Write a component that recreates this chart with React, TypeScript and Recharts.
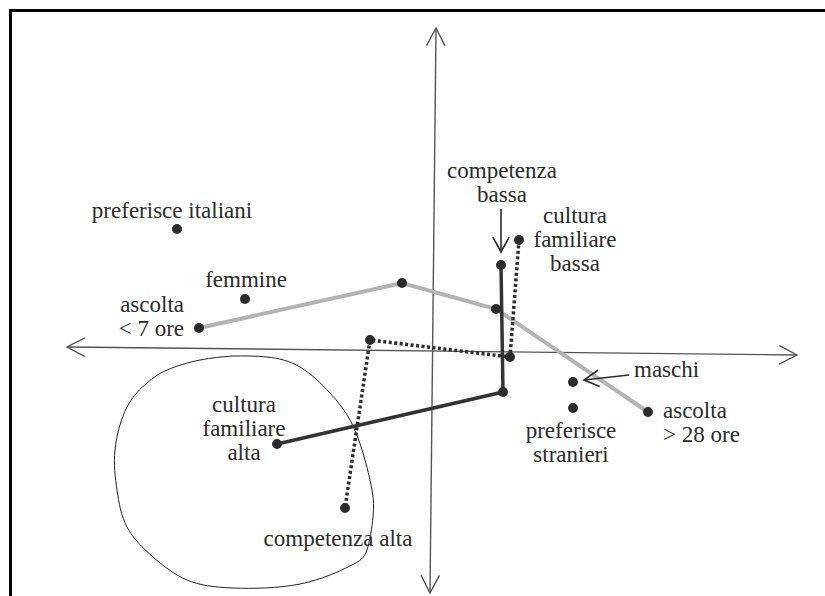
import { ComposedChart, Line, ReferenceLine, Scatter, XAxis, YAxis } from "recharts";

// axis ends (the two axes of the factorial plane)
const axisH = [{ x: -3.66, y: 0.04 }, { x: 3.64, y: -0.04 }];
const axisV = [{ x: 0.03, y: 3.23 }, { x: -0.03, y: -2.42 }];

// category points
const points = [
  { name: "prefIt", label: ["preferisce italiani"], x: -2.56, y: 1.22 },
  { name: "femmine", label: ["femmine"], x: -1.88, y: 0.52 },
  { name: "ascolta7", label: ["ascolta", "< 7 ore"], x: -2.34, y: 0.23 },
  { name: "asc2", label: [], x: -0.31, y: 0.68 },
  { name: "asc3", label: [], x: 0.63, y: 0.42 },
  { name: "ascolta28", label: ["ascolta", "> 28 ore"], x: 2.15, y: -0.61 },
  { name: "maschi", label: ["maschi"], x: 1.4, y: -0.31 },
  { name: "prefStr", label: ["preferisce", "stranieri"], x: 1.4, y: -0.57 },
  { name: "compBassa", label: ["competenza", "bassa"], x: 0.68, y: 0.86 },
  { name: "cult2", label: [], x: 0.7, y: -0.41 },
  { name: "cultAlta", label: ["cultura", "familiare", "alta"], x: -1.56, y: -0.93 },
  { name: "cultBassa", label: ["cultura", "familiare", "bassa"], x: 0.86, y: 1.11 },
  { name: "comp2", label: [], x: 0.77, y: -0.06 },
  { name: "comp3", label: [], x: -0.63, y: 0.11 },
  { name: "compAlta", label: ["competenza alta"], x: -0.88, y: -1.57 },
];

// trajectories
const ascoltoPath = [
  { x: -2.34, y: 0.23 },
  { x: -0.31, y: 0.68 },
  { x: 0.63, y: 0.42 },
  { x: 2.15, y: -0.61 },
];
const culturaPath = [
  { x: 0.68, y: 0.86 },
  { x: 0.7, y: -0.41 },
  { x: -1.56, y: -0.93 },
];
const competenzaPath = [
  { x: 0.86, y: 1.11 },
  { x: 0.77, y: -0.06 },
  { x: -0.63, y: 0.11 },
  { x: -0.88, y: -1.57 },
];

// hand drawn ring
const ring = [
  { x: -2.0, y: -0.05 }, { x: -1.66, y: -0.06 }, { x: -1.33, y: -0.16 },
  { x: -1.03, y: -0.42 }, { x: -0.83, y: -0.69 }, { x: -0.7, y: -1.02 },
  { x: -0.61, y: -1.39 }, { x: -0.6, y: -1.66 }, { x: -0.66, y: -1.99 },
  { x: -0.83, y: -2.15 }, { x: -1.33, y: -2.33 }, { x: -2.0, y: -2.37 },
  { x: -2.46, y: -2.29 }, { x: -2.8, y: -2.06 }, { x: -3.06, y: -1.76 },
  { x: -3.16, y: -1.39 }, { x: -3.18, y: -0.99 }, { x: -3.06, y: -0.56 },
  { x: -2.86, y: -0.32 }, { x: -2.66, y: -0.19 }, { x: -2.33, y: -0.09 },
  { x: -2.0, y: -0.05 },
];

// label placement, px offsets from the dot
const labelLayout: Record<string, any> = {
  prefIt: { dx: -5, dy: -19, anchor: "middle" },
  femmine: { dx: 1, dy: -20, anchor: "middle" },
  ascolta7: { dx: -15, dy: -24, anchor: "end" },
  ascolta28: { dx: 15, dy: -2, anchor: "start" },
  maschi: { dx: 61, dy: -13, anchor: "start", arrow: [56, -7, 11, -2] },
  prefStr: { dx: -2, dy: 22, anchor: "middle" },
  compBassa: { dx: 1, dy: -95, anchor: "middle", arrow: [0, -56, 0, -13] },
  cultAlta: { dx: -33, dy: -40, anchor: "middle" },
  cultBassa: { dx: 56, dy: -25, anchor: "middle" },
  compAlta: { dx: -7, dy: 30, anchor: "middle" },
};

const INK = "#2b2b2b";
const FONT = "'Liberation Serif', 'Times New Roman', serif";

function head(tx: number, ty: number, fx: number, fy: number, len: number, spread: number) {
  const a = Math.atan2(ty - fy, tx - fx);
  const x1 = tx - len * Math.cos(a - spread);
  const y1 = ty - len * Math.sin(a - spread);
  const x2 = tx - len * Math.cos(a + spread);
  const y2 = ty - len * Math.sin(a + spread);
  return `M${x1},${y1} L${tx},${ty} L${x2},${y2}`;
}

function AxisArrow(props: any) {
  const { x1, y1, x2, y2 } = props;
  return (
    <g stroke="#555" strokeWidth={1.4} fill="none">
      <line x1={x1} y1={y1} x2={x2} y2={y2} />
      <path d={head(x1, y1, x2, y2, 20, 0.48)} />
      <path d={head(x2, y2, x1, y1, 20, 0.48)} />
    </g>
  );
}

function PointShape(props: any) {
  const { cx, cy, payload } = props;
  const lay = labelLayout[payload.name];
  return (
    <g>
      <circle cx={cx} cy={cy} r={5} fill={INK} />
      {lay &&
        payload.label.map((t: string, i: number) => (
          <text
            key={i}
            x={cx + lay.dx}
            y={cy + lay.dy + i * 24}
            textAnchor={lay.anchor}
            dominantBaseline="central"
            fontFamily={FONT}
            fontSize={23}
            fill={INK}
          >
            {t}
          </text>
        ))}
      {lay && lay.arrow && (
        <g stroke={INK} strokeWidth={1.6} fill="none">
          <line x1={cx + lay.arrow[0]} y1={cy + lay.arrow[1]} x2={cx + lay.arrow[2]} y2={cy + lay.arrow[3]} />
          <path
            d={head(cx + lay.arrow[2], cy + lay.arrow[3], cx + lay.arrow[0], cy + lay.arrow[1], 17, 0.5)}
          />
        </g>
      )}
    </g>
  );
}

export default function App() {
  return (
    <div style={{ position: "absolute", left: 0, top: 0, width: 825, height: 596, background: "#fff" }}>
      <div
        style={{
          position: "absolute",
          left: 9,
          top: 9,
          right: 0,
          bottom: 0,
          borderTop: "3px solid #000",
          borderLeft: "3px solid #000",
        }}
      />
      <div style={{ position: "absolute", left: 0, top: 0 }}>
        <ComposedChart width={825} height={596} margin={{ top: 0, right: 0, bottom: 0, left: 0 }}>
          <XAxis type="number" dataKey="x" domain={[-4.33, 3.92]} hide allowDataOverflow />
          <YAxis type="number" dataKey="y" domain={[-2.45, 3.51]} hide allowDataOverflow />
          <ReferenceLine segment={axisH} shape={AxisArrow} ifOverflow="visible" />
          <ReferenceLine segment={axisV} shape={AxisArrow} ifOverflow="visible" />
          <Line
            data={ring}
            dataKey="y"
            type="natural"
            stroke="#222"
            strokeWidth={1}
            dot={false}
            activeDot={false}
            isAnimationActive={false}
          />
          <Line
            data={ascoltoPath}
            dataKey="y"
            type="linear"
            stroke="#b3b3b3"
            strokeWidth={4}
            dot={false}
            activeDot={false}
            isAnimationActive={false}
          />
          <Line
            data={competenzaPath}
            dataKey="y"
            type="linear"
            stroke={INK}
            strokeWidth={3.5}
            strokeDasharray="3 2.5"
            dot={false}
            activeDot={false}
            isAnimationActive={false}
          />
          <Line
            data={culturaPath}
            dataKey="y"
            type="linear"
            stroke="#333"
            strokeWidth={3.5}
            dot={false}
            activeDot={false}
            isAnimationActive={false}
          />
          <Scatter data={points} dataKey="y" shape={PointShape} isAnimationActive={false} />
        </ComposedChart>
      </div>
    </div>
  );
}
